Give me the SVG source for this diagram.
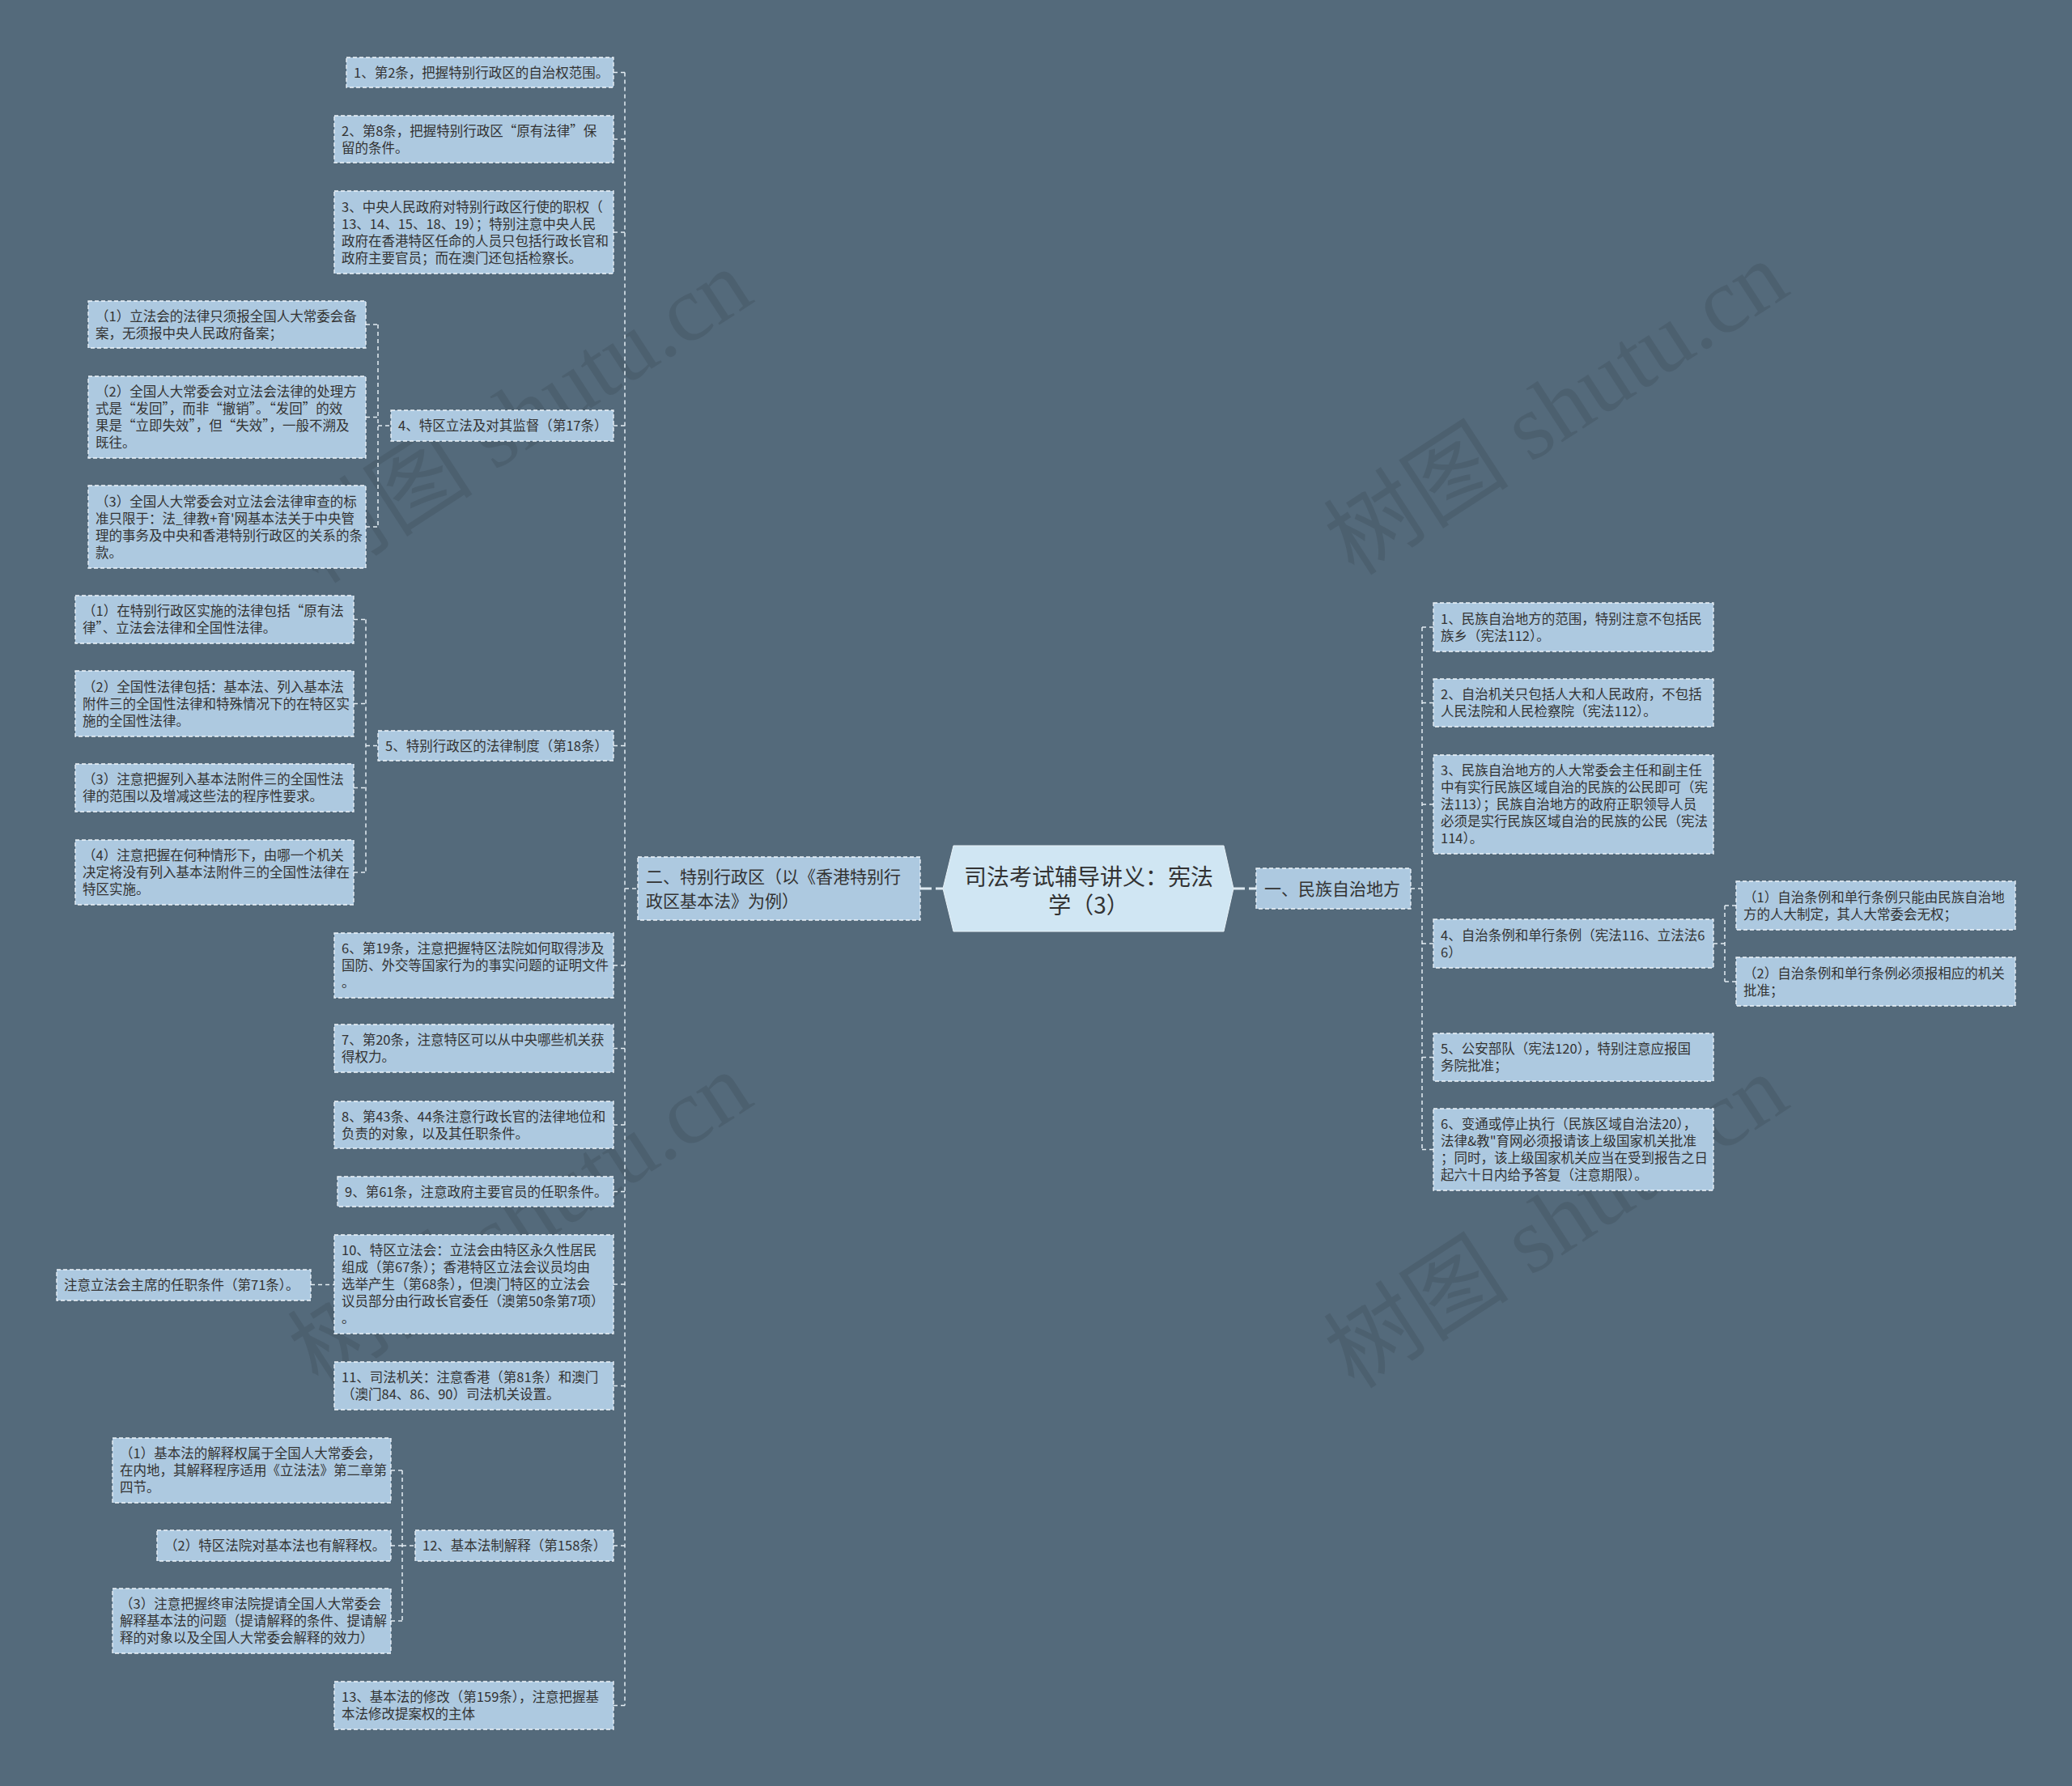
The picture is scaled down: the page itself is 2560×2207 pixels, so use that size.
<svg xmlns="http://www.w3.org/2000/svg" width="2560" height="2207" viewBox="0 0 2560 2207">
<style>
.bg{fill:#546a7b}
.n rect{fill:#adc9e0;stroke:#eef5fa;stroke-width:1.3;stroke-dasharray:5 3}
.t{font-family:"Noto Sans CJK SC","Noto Sans CJK JP",sans-serif;font-size:16.5px;fill:#333}
.t2{font-family:"Noto Sans CJK SC","Noto Sans CJK JP",sans-serif;font-size:21px;fill:#333}
.tt{font-family:"Noto Sans CJK SC","Noto Sans CJK JP",sans-serif;font-size:28px;fill:#333;text-anchor:middle}
.c{stroke:#e4edf3;stroke-width:1.5;stroke-dasharray:5 4;fill:none}
.cm{stroke:#dde9f1;stroke-width:3;stroke-dasharray:14 5;fill:none}
.wm{font-family:"Liberation Serif","Noto Sans CJK SC",serif;font-size:115px;fill:#000;fill-opacity:0.09;text-anchor:middle}
</style>
<rect class="bg" x="0" y="0" width="2560" height="2207"/>

<g id="watermarks">
<text class="wm" transform="translate(645,518) rotate(-33)" y="35">树图 shutu.cn</text>
<text class="wm" transform="translate(1925,508) rotate(-33)" y="35">树图 shutu.cn</text>
<text class="wm" transform="translate(645,1510) rotate(-33)" y="35">树图 shutu.cn</text>
<text class="wm" transform="translate(1925,1513) rotate(-33)" y="35">树图 shutu.cn</text>
</g>

<g id="connectors">
<line class="cm" x1="1137" y1="1098" x2="1165" y2="1098"/>
<line class="cm" x1="1524" y1="1098" x2="1552" y2="1098"/>
<path class="c" d="M772 89.5V2107.5 M758 89.5H772 M758 172H772 M758 287H772 M758 526H772 M758 921.5H772 M758 1193H772 M758 1295.5H772 M758 1390H772 M758 1472.5H772 M758 1587H772 M758 1712.5H772 M758 1910H772 M758 2107.5H772 M772 1098H788"/>
<path class="c" d="M467 401V651 M452 401H467 M452 515.5H467 M452 651H467 M467 526H483"/>
<path class="c" d="M452 765.5V1078 M437 765.5H452 M437 869.5H452 M437 973.5H452 M437 1078H452 M452 921.5H467"/>
<path class="c" d="M384 1587.5H413"/>
<path class="c" d="M497 1817V2003 M483 1817H497 M483 1910H497 M483 2003H497 M497 1910H513"/>
<path class="c" d="M1743 1098H1757 M1757 775V1420.5 M1757 775H1771 M1757 868.5H1771 M1757 994H1771 M1757 1166H1771 M1757 1306.5H1771 M1757 1420.5H1771"/>
<path class="c" d="M2117 1166H2131 M2131 1119V1213 M2131 1119H2145 M2131 1213H2145"/>
</g>

<g id="root">
<polygon points="1165,1098 1178,1045 1512,1045 1524,1098 1512,1151 1178,1151" fill="#d0e6f3" stroke="#e8f2f8" stroke-width="1"/>
<text class="tt" x="1345" y="1094">司法考试辅导讲义：宪法</text>
<text class="tt" x="1345" y="1129">学（3）</text>
</g>

<g id="b2" class="n"><rect x="788" y="1059" width="349" height="78"/>
<text class="t2" x="798" y="1091">二、特别行政区（以《香港特别行<tspan x="798" dy="30">政区基本法》为例）</tspan></text></g>

<g id="b1" class="n"><rect x="1552" y="1073" width="191" height="50"/>
<text class="t2" x="1562" y="1106">一、民族自治地方</text></g>

<g id="n1" class="n"><rect x="428" y="71" width="330" height="37"/>
<text class="t" x="437" y="95.5">1、第2条，把握特别行政区的自治权范围。</text></g>

<g id="n2" class="n"><rect x="413" y="143" width="345" height="58"/>
<text class="t" x="422" y="167.5">2、第8条，把握特别行政区“原有法律”保<tspan x="422" dy="21">留的条件。</tspan></text></g>

<g id="n3" class="n"><rect x="413" y="236" width="345" height="102"/>
<text class="t" x="422" y="261.5">3、中央人民政府对特别行政区行使的职权（<tspan x="422" dy="21">13、14、15、18、19）；特别注意中央人民</tspan><tspan x="422" dy="21">政府在香港特区任命的人员只包括行政长官和</tspan><tspan x="422" dy="21">政府主要官员；而在澳门还包括检察长。</tspan></text></g>

<g id="n4" class="n"><rect x="483" y="507" width="275" height="38"/>
<text class="t" x="492" y="532">4、特区立法及对其监督（第17条）</text></g>

<g id="n4-1" class="n"><rect x="109" y="372" width="343" height="58"/>
<text class="t" x="118" y="396.5">（1）立法会的法律只须报全国人大常委会备<tspan x="118" dy="21">案，无须报中央人民政府备案；</tspan></text></g>

<g id="n4-2" class="n"><rect x="109" y="465" width="343" height="101"/>
<text class="t" x="118" y="490">（2）全国人大常委会对立法会法律的处理方<tspan x="118" dy="21">式是“发回”，而非“撤销”。“发回”的效</tspan><tspan x="118" dy="21">果是“立即失效”，但“失效”，一般不溯及</tspan><tspan x="118" dy="21">既往。</tspan></text></g>

<g id="n4-3" class="n"><rect x="109" y="600" width="343" height="102"/>
<text class="t" x="118" y="625.5">（3）全国人大常委会对立法会法律审查的标<tspan x="118" dy="21">准只限于：法_律教+育'网基本法关于中央管</tspan><tspan x="118" dy="21">理的事务及中央和香港特别行政区的关系的条</tspan><tspan x="118" dy="21">款。</tspan></text></g>

<g id="n5" class="n"><rect x="467" y="903" width="291" height="37"/>
<text class="t" x="476" y="927.5">5、特别行政区的法律制度（第18条）</text></g>

<g id="n5-1" class="n"><rect x="93" y="736" width="344" height="59"/>
<text class="t" x="102" y="761">（1）在特别行政区实施的法律包括“原有法<tspan x="102" dy="21">律”、立法会法律和全国性法律。</tspan></text></g>

<g id="n5-2" class="n"><rect x="93" y="829" width="344" height="81"/>
<text class="t" x="102" y="854.5">（2）全国性法律包括：基本法、列入基本法<tspan x="102" dy="21">附件三的全国性法律和特殊情况下的在特区实</tspan><tspan x="102" dy="21">施的全国性法律。</tspan></text></g>

<g id="n5-3" class="n"><rect x="93" y="944" width="344" height="59"/>
<text class="t" x="102" y="969">（3）注意把握列入基本法附件三的全国性法<tspan x="102" dy="21">律的范围以及增减这些法的程序性要求。</tspan></text></g>

<g id="n5-4" class="n"><rect x="93" y="1038" width="344" height="80"/>
<text class="t" x="102" y="1063">（4）注意把握在何种情形下，由哪一个机关<tspan x="102" dy="21">决定将没有列入基本法附件三的全国性法律在</tspan><tspan x="102" dy="21">特区实施。</tspan></text></g>

<g id="n6" class="n"><rect x="413" y="1153" width="345" height="80"/>
<text class="t" x="422" y="1178">6、第19条，注意把握特区法院如何取得涉及<tspan x="422" dy="21">国防、外交等国家行为的事实问题的证明文件</tspan><tspan x="422" dy="21">。</tspan></text></g>

<g id="n7" class="n"><rect x="413" y="1266" width="345" height="59"/>
<text class="t" x="422" y="1291">7、第20条，注意特区可以从中央哪些机关获<tspan x="422" dy="21">得权力。</tspan></text></g>

<g id="n8" class="n"><rect x="413" y="1361" width="345" height="58"/>
<text class="t" x="422" y="1385.5">8、第43条、44条注意行政长官的法律地位和<tspan x="422" dy="21">负责的对象，以及其任职条件。</tspan></text></g>

<g id="n9" class="n"><rect x="417" y="1454" width="341" height="37"/>
<text class="t" x="426" y="1478.5">9、第61条，注意政府主要官员的任职条件。</text></g>

<g id="n10" class="n"><rect x="413" y="1526" width="345" height="122"/>
<text class="t" x="422" y="1551">10、特区立法会：立法会由特区永久性居民<tspan x="422" dy="21">组成（第67条）；香港特区立法会议员均由</tspan><tspan x="422" dy="21">选举产生（第68条），但澳门特区的立法会</tspan><tspan x="422" dy="21">议员部分由行政长官委任（澳第50条第7项）</tspan><tspan x="422" dy="21">。</tspan></text></g>

<g id="n10-1" class="n"><rect x="70" y="1569" width="314" height="38"/>
<text class="t" x="79" y="1594">注意立法会主席的任职条件（第71条）。</text></g>

<g id="n11" class="n"><rect x="413" y="1683" width="345" height="59"/>
<text class="t" x="422" y="1708">11、司法机关：注意香港（第81条）和澳门<tspan x="422" dy="21">（澳门84、86、90）司法机关设置。</tspan></text></g>

<g id="n12" class="n"><rect x="513" y="1891" width="245" height="38"/>
<text class="t" x="522" y="1916">12、基本法制解释（第158条）</text></g>

<g id="n12-1" class="n"><rect x="139" y="1777" width="344" height="80"/>
<text class="t" x="148" y="1802">（1）基本法的解释权属于全国人大常委会，<tspan x="148" dy="21">在内地，其解释程序适用《立法法》第二章第</tspan><tspan x="148" dy="21">四节。</tspan></text></g>

<g id="n12-2" class="n"><rect x="194" y="1891" width="289" height="38"/>
<text class="t" x="203" y="1916">（2）特区法院对基本法也有解释权。</text></g>

<g id="n12-3" class="n"><rect x="139" y="1963" width="344" height="80"/>
<text class="t" x="148" y="1988">（3）注意把握终审法院提请全国人大常委会<tspan x="148" dy="21">解释基本法的问题（提请解释的条件、提请解</tspan><tspan x="148" dy="21">释的对象以及全国人大常委会解释的效力）</tspan></text></g>

<g id="n13" class="n"><rect x="413" y="2078" width="345" height="59"/>
<text class="t" x="422" y="2103">13、基本法的修改（第159条），注意把握基<tspan x="422" dy="21">本法修改提案权的主体</tspan></text></g>

<g id="r1" class="n"><rect x="1771" y="745" width="346" height="60"/>
<text class="t" x="1780" y="770.5">1、民族自治地方的范围，特别注意不包括民<tspan x="1780" dy="21">族乡（宪法112）。</tspan></text></g>

<g id="r2" class="n"><rect x="1771" y="839" width="346" height="59"/>
<text class="t" x="1780" y="864">2、自治机关只包括人大和人民政府，不包括<tspan x="1780" dy="21">人民法院和人民检察院（宪法112）。</tspan></text></g>

<g id="r3" class="n"><rect x="1771" y="933" width="346" height="122"/>
<text class="t" x="1780" y="958">3、民族自治地方的人大常委会主任和副主任<tspan x="1780" dy="21">中有实行民族区域自治的民族的公民即可（宪</tspan><tspan x="1780" dy="21">法113）；民族自治地方的政府正职领导人员</tspan><tspan x="1780" dy="21">必须是实行民族区域自治的民族的公民（宪法</tspan><tspan x="1780" dy="21">114）。</tspan></text></g>

<g id="r4" class="n"><rect x="1771" y="1136" width="346" height="60"/>
<text class="t" x="1780" y="1161.5">4、自治条例和单行条例（宪法116、立法法6<tspan x="1780" dy="21">6）</tspan></text></g>

<g id="r4-1" class="n"><rect x="2145" y="1089" width="345" height="60"/>
<text class="t" x="2154" y="1114.5">（1）自治条例和单行条例只能由民族自治地<tspan x="2154" dy="21">方的人大制定，其人大常委会无权；</tspan></text></g>

<g id="r4-2" class="n"><rect x="2145" y="1183" width="345" height="60"/>
<text class="t" x="2154" y="1208.5">（2）自治条例和单行条例必须报相应的机关<tspan x="2154" dy="21">批准；</tspan></text></g>

<g id="r5" class="n"><rect x="1771" y="1277" width="346" height="59"/>
<text class="t" x="1780" y="1302">5、公安部队（宪法120），特别注意应报国<tspan x="1780" dy="21">务院批准；</tspan></text></g>

<g id="r6" class="n"><rect x="1771" y="1370" width="346" height="101"/>
<text class="t" x="1780" y="1395">6、变通或停止执行（民族区域自治法20），<tspan x="1780" dy="21">法律&amp;教"育网必须报请该上级国家机关批准</tspan><tspan x="1780" dy="21">；同时，该上级国家机关应当在受到报告之日</tspan><tspan x="1780" dy="21">起六十日内给予答复（注意期限）。</tspan></text></g>
</svg>
